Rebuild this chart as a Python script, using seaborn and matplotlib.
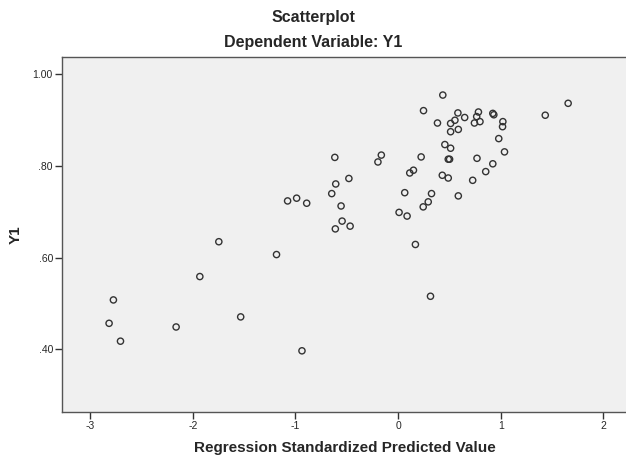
import matplotlib
matplotlib.use("Agg")
import matplotlib.pyplot as plt
import seaborn as sns
import pandas as pd

pred = [-2.773, -2.815, -2.704, -2.162, -1.931, -1.746, -1.533, -1.184, -0.936,
        -1.076, -0.988, -0.890, -0.616, -0.607, -0.646, -0.479, -0.555, -0.545,
        -0.467, -0.611, -0.196, -0.163, 0.225, 0.150, 0.114, 0.065, 0.010, 0.088,
        0.169, 0.316, 0.326, 0.294, 0.245, 0.436, 0.248, 0.384, 0.583, 0.649,
        0.783, 0.766, 0.923, 0.933, 0.744, 0.798, 0.512, 0.554, 0.587, 0.512,
        1.021, 1.018, 1.434, 1.657, 0.981, 1.037, 0.456, 0.512, 0.489, 0.502,
        0.769, 0.923, 0.854, 0.431, 0.489, 0.727, 0.587]
y1 = [0.508, 0.457, 0.418, 0.449, 0.559, 0.635, 0.471, 0.607, 0.397,
      0.724, 0.730, 0.719, 0.819, 0.761, 0.740, 0.773, 0.713, 0.680,
      0.669, 0.663, 0.809, 0.824, 0.820, 0.791, 0.785, 0.742, 0.699, 0.691,
      0.629, 0.516, 0.740, 0.722, 0.711, 0.955, 0.921, 0.894, 0.916, 0.906,
      0.918, 0.908, 0.915, 0.912, 0.894, 0.897, 0.893, 0.900, 0.880, 0.875,
      0.897, 0.886, 0.911, 0.937, 0.860, 0.831, 0.847, 0.839, 0.815, 0.815,
      0.817, 0.805, 0.788, 0.780, 0.774, 0.769, 0.735]

xticks = [-3, -2, -1, 0, 1, 2]
yticks = [0.40, 0.60, 0.80, 1.00]
ytick_labels = [".40", ".60", ".80", "1.00"]

df = pd.DataFrame({"pred": pred, "y1": y1})

sns.set_style("white")
plt.rcParams["font.family"] = ["Liberation Sans", "DejaVu Sans"]

fig = plt.figure(figsize=(6.26, 4.59), dpi=100)
ax = fig.add_axes([0.099, 0.1024, 0.905, 0.7734])
ax.set_facecolor("#F0F0F0")

sns.scatterplot(data=df, x="pred", y="y1", ax=ax, marker="o", s=20,
                facecolors="none", edgecolor="#333333", linewidth=1.0)

ax.set_xlim(-3.274, 2.245)
ax.set_ylim(0.2635, 1.038)
ax.set_xticks(xticks)
ax.set_xticklabels([str(t) for t in xticks], fontsize=7.5)
ax.set_yticks(yticks)
ax.set_yticklabels(ytick_labels, fontsize=7.5)
ax.tick_params(axis="both", direction="out", length=5, width=1, color="#333333",
               bottom=True, left=True, pad=1.5)

for side in ["left", "bottom", "top"]:
    ax.spines[side].set_color("#555555")
    ax.spines[side].set_linewidth(1.0)
ax.spines["right"].set_visible(False)

ax.set_xlabel("Regression Standardized Predicted Value", fontsize=11,
              fontweight="bold", labelpad=7)
ax.set_ylabel("Y1", fontsize=11, fontweight="bold", labelpad=7)

fig.text(0.5, 0.962, "Scatterplot", ha="center", va="center", fontsize=11.5,
         fontweight="bold")
fig.text(0.5, 0.908, "Dependent Variable: Y1", ha="center", va="center",
         fontsize=11.5, fontweight="bold")

fig.savefig("out.png", dpi=100, facecolor="white")
